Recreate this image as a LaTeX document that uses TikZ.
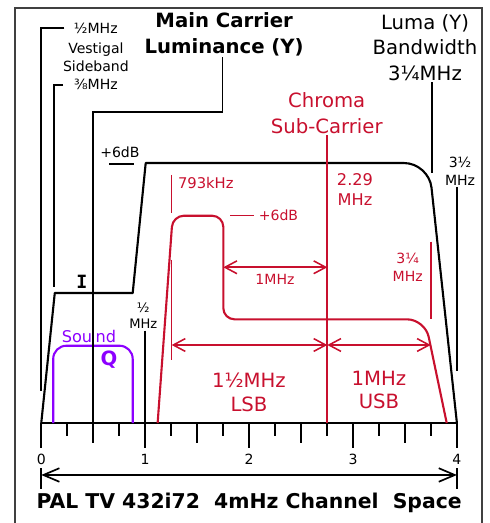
\documentclass[tikz,border=0pt]{standalone}
\usepackage{fontspec}
\setmainfont{DejaVu Sans}
\setmonofont{DejaVu Sans Mono}
\usetikzlibrary{arrows.meta}
\definecolor{chroma}{RGB}{200,16,46}
\definecolor{sound}{RGB}{140,0,255}

\begin{document}
\begin{tikzpicture}[x=2.6cm,y=2.6cm,>={Straight Barb[length=3mm,width=3.2mm]},
    curve/.style={line width=1.5pt, line join=round},
    lead/.style={line width=1.3pt},
    rlead/.style={chroma, line width=1pt},
    small/.style={font=\fontsize{10}{12.8}\selectfont, align=center, inner sep=1pt},
    mid/.style={font=\fontsize{11.5}{14.2}\selectfont, align=center, inner sep=1pt},
    big/.style={font=\fontsize{14}{18.3}\selectfont, align=center, inner sep=1pt}]
    \useasboundingbox (-0.397,-0.962) rectangle (4.318,4.071);
    \draw[line width=0.8pt, black!75] (-0.253,-0.962) -- (-0.253,3.994) -- (4.242,3.994) -- (4.242,-0.962);

    % Frequency axis
    \draw[line width=1.5pt] (0,0) -- (4,0);
    \foreach \x in {0,...,4} {
        \draw[line width=1.4pt] (\x,0) -- (\x,-0.241);
        \node[small] (n\x) at (\x,-0.346) {\x};
    }
    \foreach \x in {0.5,1.5,2.5,3.5} \draw[line width=1.1pt] (\x,0) -- (\x,-0.193);
    \foreach \x in {0.25,0.75,...,3.75} \draw[line width=1.1pt] (\x,0) -- (\x,-0.125);

    % Channel width
    \coordinate (chl) at (0,-0.5);
    \coordinate (chr) at (4,-0.5);
    \draw[line width=1.2pt] (0,-0.433) -- (0,-0.635) (4,-0.433) -- (4,-0.635);
    \draw[line width=1.2pt,<->,>={Straight Barb[length=4mm,width=3.4mm]}] (chl) -- (chr);
    \node[big, font=\fontsize{14.5}{18}\selectfont\bfseries] (title) at (2,-0.765)
        {PAL TV 432i72\ \ 4mHz Channel\ \ Space};

    % Luma band
    \draw[curve] (0,0) -- (0.13,1.251) -- (0.88,1.251) -- (1.005,2.502)
        [rounded corners=0.62cm] -- (3.73,2.502) -- (4,0);
    \node[font=\fontsize{13}{15}\selectfont\ttfamily\bfseries, inner sep=0pt] (ichan) at (0.392,1.36) {I};

    % Sound carrier
    \draw[curve, sound, rounded corners=0.33cm] (0.115,0) -- (0.115,0.744) -- (0.88,0.744) -- (0.88,0);
    \node[mid, text=sound] (snd) at (0.459,0.831) {Sou\kern2.5pt nd};
    \node[font=\fontsize{14}{16}\selectfont\bfseries, text=sound, inner sep=0pt] (qchan) at (0.652,0.606) {Q};

    % Chroma band
    \draw[curve, chroma, rounded corners=0.28cm] (1.120,0) -- (1.265,1.995) -- (1.752,1.995)
        -- (1.752,0.998) [rounded corners=0.45cm] -- (3.693,0.998) -- (3.902,0);

    % Vestigal sideband labels
    \node[small] (vsbtop) at (0.525,3.80) {½MHz};
    \node[small] (vsbmid) at (0.526,3.523) {Vestigal\\Sideband};
    \node[small] (vsbbot) at (0.526,3.255) {⅜MHz};
    \draw[lead] ([xshift=-0.2cm]vsbtop.west) -| (0,0.313);
    \draw[lead] ([xshift=-0.23cm]vsbbot.west) -| (0.125,1.312);

    % Main carrier
    \node[big, font=\fontsize{14}{18.5}\selectfont\bfseries] (maincar) at (1.760,3.744) {Main Carrier\\Luminance (Y)};
    \coordinate (mcfoot) at (0.5,0);
    \draw[lead] ([xshift=-0.04cm]maincar.south) |- (0.5,2.996) -- (mcfoot);

    % +6dB (luma)
    \node[small] (bdb) at (0.757,2.608) {+6dB};
    \draw[lead] (0.652,2.496) -- (0.895,2.496);

    % Luma bandwidth
    \node[big] (luma) at (3.693,3.614) {Luma (Y)\\Bandwidth\\3¼MHz};
    \coordinate (lumatip) at (3.757,2.403);
    \draw[lead] (lumatip |- luma.south) -- (lumatip);

    \node[small] (bw) at (4.030,2.425) {3½\\MHz};
    \coordinate (bwtip) at (4.004,0.503);
    \draw[lead] (bwtip |- bw.south) -- (bwtip);

    \node[small, font=\fontsize{9.3}{11.4}\selectfont] (half) at (0.982,1.030) {½\\MHz};
    \coordinate (halftip) at (1.001,0);
    \draw[lead] (halftip |- half.south) -- (halftip);

    % Chroma sub-carrier
    \node[big, text=chroma] (chrlbl) at (2.747,2.984) {Chroma\\Sub-Carrier};
    \coordinate (chrfoot) at (2.753,0);
    \draw[chroma, line width=1.4pt] (chrfoot |- chrlbl.south) -- (chrfoot);
    \node[mid, text=chroma] (freq) at (3.019,2.243) {2.29\\MHz};

    \node[small, text=chroma, anchor=west, font=\fontsize{10.5}{12.8}\selectfont] (khz) at (1.300,2.310) {793kHz};
    \draw[rlead] (1.255,2.387) -- (1.255,2.021);

    \node[small, text=chroma] (rdb) at (2.283,1.995) {+6dB};
    \draw[rlead] ([xshift=-0.09cm]rdb.west) -- (1.816,1.995);

    \draw[rlead, line width=1.1pt, <->] (1.752,1.499) -- (chrfoot |- 0,1.499);
    \node[small, text=chroma] (onemhz) at (2.249,1.383) {1MHz};

    \node[small, text=chroma] (qtr) at (3.526,1.501) {3¼\\MHz};
    \draw[rlead, line width=1.2pt] (3.751,1.745) -- (3.751,0.998);

    % Sidebands
    \draw[rlead] (1.255,1.569) -- (1.255,0.606);
    \draw[rlead, line width=1.1pt, <->] (1.255,0.751) -- (chrfoot |- 0,0.751);
    \draw[rlead, line width=1.1pt, <->] (chrfoot |- 0,0.751) -- (3.748,0.751);
    \node[big, text=chroma, font=\fontsize{14}{17}\selectfont] (lsb) at (1.999,0.298) {1½MHz\\LSB};
    \node[big, text=chroma, font=\fontsize{14}{17}\selectfont] (usb) at (3.250,0.318) {1MHz\\USB};
\end{tikzpicture}
\end{document}
